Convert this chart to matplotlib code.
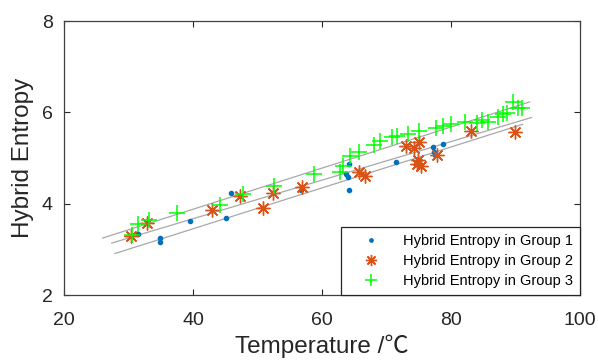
import numpy as np
import matplotlib
matplotlib.use('Agg')
import matplotlib.pyplot as plt

plt.rcParams['font.family'] = ['Liberation Sans', 'DejaVu Sans']

# Group 1 (blue dots)
g1_temp = [31.4, 34.9, 34.9, 39.6, 45.1, 45.9, 56.8, 63.7, 64.1, 64.2, 64.2,
           71.5, 77.2, 77.3, 77.5, 78.8]
g1_entropy = [3.34, 3.26, 3.16, 3.62, 3.68, 4.24, 4.30, 4.66, 4.59, 4.87, 4.30,
              4.92, 5.25, 5.14, 5.07, 5.30]

# Group 2 (orange asterisks)
g2_temp = [30.4, 32.9, 43.0, 47.3, 50.9, 52.4, 56.9, 65.8, 66.6, 73.0, 74.2,
           75.1, 74.9, 74.8, 75.3, 77.9, 83.1, 89.9]
g2_entropy = [3.29, 3.58, 3.86, 4.18, 3.90, 4.23, 4.37, 4.70, 4.61, 5.27, 5.22,
              5.36, 4.96, 4.86, 4.83, 5.07, 5.60, 5.57]

# Group 3 (green crosses)
g3_temp = [30.6, 31.5, 33.2, 37.5, 44.2, 47.7, 52.5, 58.7, 62.8, 63.3, 64.3,
           65.8, 68.0, 69.0, 70.9, 71.7, 73.3, 75.0, 77.7, 78.8, 80.0, 82.2,
           84.0, 84.8, 85.7, 87.3, 88.1, 88.7, 89.6, 90.4, 91.0]
g3_entropy = [3.31, 3.55, 3.65, 3.80, 3.98, 4.22, 4.39, 4.65, 4.70, 4.83, 5.04,
              5.14, 5.28, 5.38, 5.46, 5.48, 5.52, 5.60, 5.65, 5.71, 5.74, 5.79,
              5.76, 5.83, 5.79, 5.90, 5.96, 5.99, 6.23, 6.09, 6.10]

# fitted lines (end points)
fit_top_x = [26.0, 92.2]
fit_top_y = [3.25, 6.23]
fit_mid_x = [27.4, 92.5]
fit_mid_y = [3.14, 5.89]
fit_bot_x = [27.9, 91.1]
fit_bot_y = [2.91, 5.74]

fig = plt.figure(figsize=(5.98, 3.63), dpi=100)
ax = fig.add_axes([0.107, 0.187, 0.863, 0.755])

for fx, fy in [(fit_top_x, fit_top_y), (fit_mid_x, fit_mid_y), (fit_bot_x, fit_bot_y)]:
    ax.plot(fx, fy, color='#a8a8a8', lw=0.9, zorder=1)

ax.plot(g1_temp, g1_entropy, '.', color='#0072BD', ms=6, ls='none',
        label='Hybrid Entropy in Group 1', zorder=3)
ax.plot(g2_temp, g2_entropy, marker=(8, 2, 0), color='#D95319', ms=10, mew=1.0,
        ls='none', label='Hybrid Entropy in Group 2', zorder=3)
ax.plot(g3_temp, g3_entropy, '+', color='#00FF00', ms=11, mew=1.1, ls='none',
        label='Hybrid Entropy in Group 3', zorder=3)

ax.set_xlim(20, 100)
ax.set_ylim(2, 8)
ax.set_xticks([20, 40, 60, 80, 100])
ax.set_yticks([2, 4, 6, 8])
ax.tick_params(direction='in', top=True, right=True, length=4, width=0.8,
               labelsize=14, colors='#262626')
ax.tick_params(axis='x', pad=12)
ax.tick_params(axis='y', pad=8)
for s in ax.spines.values():
    s.set_color('#404040')
    s.set_linewidth(0.9)

ax.set_xlabel('Temperature /℃', fontsize=17.5, color='#262626', labelpad=4,
              family=['Liberation Sans', 'Noto Sans CJK SC', 'DejaVu Sans'])
ax.set_ylabel('Hybrid Entropy', fontsize=17.5, color='#262626', labelpad=6)

leg = ax.legend(loc='lower right', borderaxespad=0, fancybox=False,
                framealpha=1, edgecolor='#262626', fontsize=10.5,
                handlelength=3.2, handletextpad=0.55, borderpad=0.5,
                labelspacing=0.4, markerscale=0.8)
leg.get_frame().set_linewidth(0.9)

fig.savefig('out.png', dpi=100)
